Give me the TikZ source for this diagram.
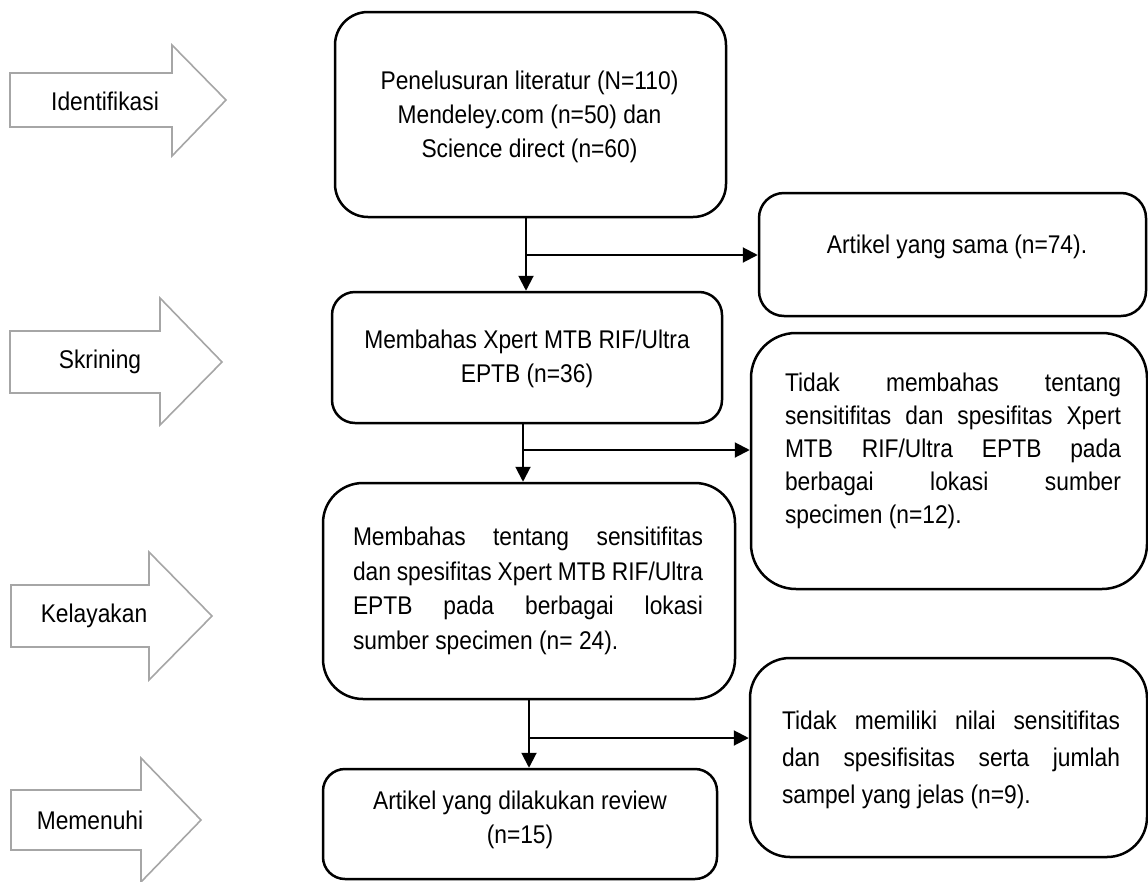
\documentclass[tikz,border=0pt]{standalone}
\usepackage{fontspec}
\setmainfont[FakeStretch=0.89]{Liberation Sans}
\usetikzlibrary{arrows.meta}
\definecolor{arrgray}{HTML}{A6A6A6}
\begin{document}
\begin{tikzpicture}[x=1pt,y=-1pt,
  txt/.style={font=\fontsize{25.6pt}{34pt}\selectfont, inner sep=0pt},
  box/.style={draw, line width=2.5pt, inner sep=0pt},
  conn/.style={line width=2pt, -{Triangle[length=15pt,width=15pt]}},
  garrow/.style={draw=arrgray, line width=1.6pt, fill=white, line join=miter}]
\useasboundingbox (0,0) rectangle (1148,881);

% gray stage arrows
\draw[garrow] (10,73) -- (172,73) -- (172,45) -- (226,100) -- (172,156) -- (172,127) -- (10,127) -- cycle;
\node[txt] (lid) at (105,101) {Identifikasi};
\draw[garrow] (10,331) -- (160,331) -- (160,298) -- (222,362) -- (160,425) -- (160,393) -- (10,393) -- cycle;
\node[txt] (lsk) at (100,362) {Skrining};
\draw[garrow] (11,585) -- (149,585) -- (149,552) -- (212,616) -- (149,680) -- (149,647) -- (11,647) -- cycle;
\node[txt] (lke) at (94,616) {Kelayakan};
\draw[garrow] (11,790) -- (141,790) -- (141,758) -- (201,820) -- (141,882) -- (141,850) -- (11,850) -- cycle;
\node[txt] (lme) at (90,820) {Memenuhi};

% main boxes
\node[box, rounded corners=33pt, minimum width=391pt, minimum height=205pt] (b1) at (530.5,114.5) {};
\node[txt, align=center] (t1) at (529.5,116.5) {Penelusuran literatur (N=110)\\Mendeley.com (n=50) dan\\Science direct (n=60)};

\node[box, rounded corners=23pt, minimum width=390pt, minimum height=131pt] (b2) at (527,357.5) {};
\node[txt, align=center] (t2) at (527,358.5) {Membahas Xpert MTB RIF/Ultra\\EPTB (n=36)};

\node[box, rounded corners=40pt, minimum width=412pt, minimum height=216pt] (b3) at (529,591) {};
\node[txt, align=left, font=\fontsize{25.6pt}{34.7pt}\selectfont] (t3) at (528,591) {%
\makebox[350pt][s]{Membahas tentang sensitifitas}\\
\makebox[350pt][s]{dan spesifitas Xpert MTB RIF/Ultra}\\
\makebox[350pt][s]{EPTB pada berbagai lokasi}\\
sumber specimen (n= 24).};

\node[box, rounded corners=22pt, minimum width=394pt, minimum height=110pt] (b4) at (520,824) {};
\node[txt, align=center] (t4) at (520,820) {Artikel yang dilakukan review\\(n=15)};

% right boxes
\node[box, rounded corners=25pt, minimum width=387pt, minimum height=123pt] (r1) at (952.5,254.5) {};
\node[txt] (s1) at (957,247) {Artikel yang sama (n=74).};

\node[box, rounded corners=45pt, minimum width=396pt, minimum height=256pt] (r2) at (949,461) {};
\node[txt, align=left, font=\fontsize{25.6pt}{33pt}\selectfont] (s2) at (953,451) {%
\makebox[336pt][s]{Tidak membahas tentang}\\
\makebox[336pt][s]{sensitifitas dan spesifitas Xpert}\\
\makebox[336pt][s]{MTB RIF/Ultra EPTB pada}\\
\makebox[336pt][s]{berbagai lokasi sumber}\\
specimen (n=12).};

\node[box, rounded corners=40pt, minimum width=397pt, minimum height=199pt] (r3) at (948.5,757.5) {};
\node[txt, align=left, font=\fontsize{25.6pt}{37pt}\selectfont] (s3) at (951,760) {%
\makebox[338pt][s]{Tidak memiliki nilai sensitifitas}\\
\makebox[338pt][s]{dan spesifisitas serta jumlah}\\
sampel yang jelas (n=9).};

% connectors
\coordinate (j1) at (526,255);
\coordinate (j2) at (523,450);
\coordinate (j3) at (529,738);
\draw[conn] (j1 |- b1.south) -- (j1 |- b2.north);
\draw[conn] (j1) -- (j1 -| r1.west);
\draw[conn] (j2 |- b2.south) -- (j2 |- b3.north);
\draw[conn] (j2) -- (j2 -| r2.west);
\draw[conn] (j3 |- b3.south) -- (j3 |- b4.north);
\draw[conn] (j3) -- (j3 -| r3.west);
\end{tikzpicture}
\end{document}
